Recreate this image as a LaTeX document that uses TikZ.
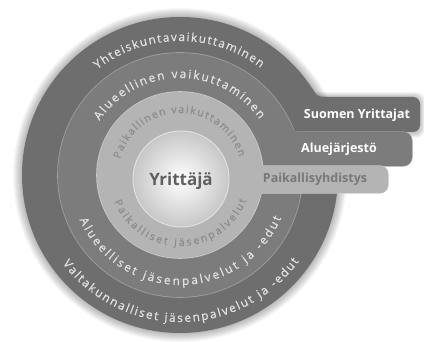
\documentclass[tikz,border=0pt]{standalone}
\usepackage{fontspec}
\setmainfont{Open Sans}
\newfontfamily\arcfont{Open Sans}[FakeBold=0.6]
\usetikzlibrary{decorations.text}
\definecolor{ringA}{HTML}{6E6E6E}
\definecolor{ringB}{HTML}{7C7C7C}
\definecolor{ringC}{HTML}{B4B4B4}
\definecolor{edgeB}{HTML}{A0A0A0}
\definecolor{edgeC}{HTML}{CACACA}
\definecolor{txtLight}{HTML}{E2E2E2}
\definecolor{txtMid}{HTML}{8C8C8C}
\definecolor{txtDark}{HTML}{606060}
\newcommand\rtxtA{\arcfont\fontsize{11.8}{13}\selectfont}
\newcommand\rtxtC{\arcfont\fontsize{10.5}{12}\selectfont}
\tikzset{
  arctext/.style={decorate, decoration={text along path, text={#1}, text align={fit to path}}},
  tablabel/.style={font=\bfseries\fontsize{12.5}{14}\selectfont, text=white, inner sep=0pt},
}
\begin{document}
\begin{tikzpicture}[x=1pt,y=1pt]
\useasboundingbox (0,0) rectangle (424,342);
\fill[white] (0,0) rectangle (424,342);
\coordinate (C) at (180,167);
% soft shadow
\foreach \i in {1,...,10} {
  \fill[black,opacity=0.03] (C) circle[radius=157+\i];
  \fill[black,opacity=0.025,rounded corners=8] (300,209-\i/2) rectangle (420+\i/2,245+\i/2);
}
% outer ring + tab
\fill[ringA] (C) circle[radius=158];
\fill[ringA, rounded corners=7] (180,210) rectangle (420,245);
\coordinate (JA) at (318,245);
\coordinate (AA) at (312.5,253.1);
\coordinate (BA) at (327,245);
\fill[ringA] (AA) .. controls (JA) .. (BA) -- (JA) -- cycle;
% middle ring + tab
\draw[edgeB, line width=1.6] (C) circle[radius=122];
\draw[edgeB, line width=1.2, rounded corners=9] (180,176) rectangle (412,210);
\fill[ringB] (C) circle[radius=122];
\fill[ringB, rounded corners=9] (180,176) rectangle (412,210);
\coordinate (JB) at (294,210);
\coordinate (AB) at (290.6,218.6);
\coordinate (BB) at (302,210);
\fill[ringB] (AB) .. controls (JB) .. (BB) -- (JB) -- cycle;
% inner ring + tab
\draw[edgeC, line width=1.6] (C) circle[radius=83];
\draw[edgeC, line width=1.2, rounded corners=8] (180,149) rectangle (388,176);
\fill[ringC] (C) circle[radius=83];
\fill[ringC, rounded corners=8] (180,149) rectangle (388,176);
% centre
\shade[inner color=white, outer color=black!22] (181,163) circle[radius=48];
\draw[white!88!black, line width=1] (181,163) circle[radius=48];
% texts on arcs
\path[arctext={|\rtxtA\color{txtLight}|Yhteiskuntavaikuttaminen}] (C) ++(128:134) arc[start angle=128, end angle=53, radius=134];
\path[arctext={|\rtxtA\color{txtLight}|Alueellinen vaikuttaminen}] (C) ++(146:97) arc[start angle=146, end angle=35, radius=97];
\path[arctext={|\rtxtC\color{txtMid}|Paikallinen vaikuttaminen}] (C) ++(165:62) arc[start angle=165, end angle=17, radius=62];
\path[arctext={|\rtxtC\color{txtMid}|Paikalliset jäsenpalvelut}] (C) ++(202:71) arc[start angle=202, end angle=339, radius=71];
\path[arctext={|\rtxtA\color{txtLight}|Alueelliset jäsenpalvelut ja -edut}] (C) ++(204:110) arc[start angle=204, end angle=337, radius=110];
\path[arctext={|\rtxtA\color{txtLight}|Valtakunnalliset jäsenpalvelut ja -edut}] (C) ++(217:147) arc[start angle=217, end angle=324, radius=147];
% labels
\node[font=\bfseries\fontsize{17}{20}\selectfont, text=txtDark] (yr) at (181,161) {Yrittäjä};
\node[tablabel] (sy) at (357,227) {Suomen Yrittajat};
\node[tablabel] (aj) at (339,193) {Aluejärjestö};
\node[tablabel, text=txtDark!85] (py) at (315,162.5) {Paikallisyhdistys};
\end{tikzpicture}
\end{document}
